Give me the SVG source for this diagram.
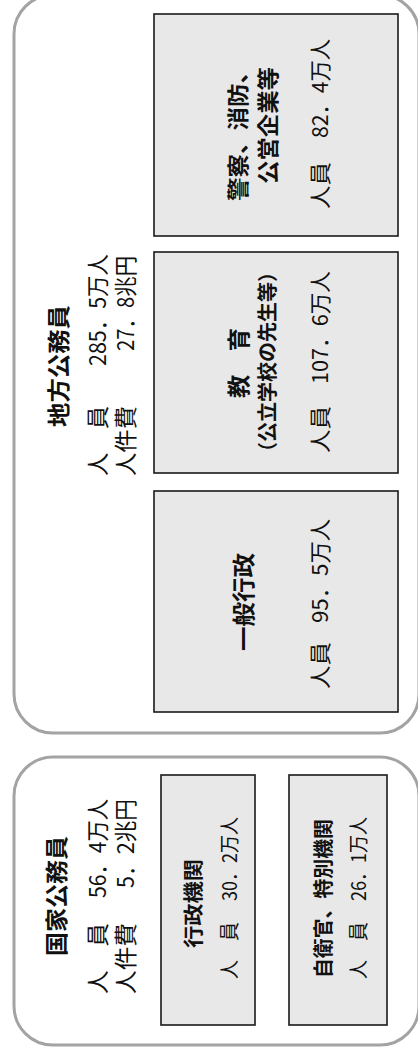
<svg xmlns="http://www.w3.org/2000/svg" width="418" height="1056" viewBox="0 0 418 1056">
<style>
.cont{fill:#ffffff;stroke:#a3a3a3;stroke-width:3}
.box{fill:#e8e8e8;stroke:#1a1a1a;stroke-width:1.6}
.t{font-family:"Noto Sans CJK JP","Noto Sans CJK SC",sans-serif;fill:#111;dominant-baseline:central}
.b{font-weight:bold}
</style>
<rect width="418" height="1056" fill="#ffffff"/>
<g id="connectors"/>
<g id="local">
<rect class="cont" x="14" y="-5" width="405" height="738" rx="39"/>
<text class="t b" font-size="23" textLength="122" lengthAdjust="spacingAndGlyphs" transform="translate(57 427) rotate(-90)">地方公務員</text>
<text class="t" font-size="23" textLength="70" lengthAdjust="spacingAndGlyphs" transform="translate(96 476) rotate(-90)">人　員</text>
<text class="t" font-size="23" textLength="112" lengthAdjust="spacingAndGlyphs" transform="translate(96 366) rotate(-90)">285．5万人</text>
<text class="t" font-size="23" textLength="70" lengthAdjust="spacingAndGlyphs" transform="translate(124 476) rotate(-90)">人件費</text>
<text class="t" font-size="23" textLength="95" lengthAdjust="spacingAndGlyphs" transform="translate(124 351) rotate(-90)">27．8兆円</text>
</g>
<g id="police">
<rect class="box" x="154" y="14" width="244" height="222"/>
<text class="t b" font-size="22" textLength="141" lengthAdjust="spacingAndGlyphs" transform="translate(236 201) rotate(-90)">警察、消防、</text>
<text class="t b" font-size="22" textLength="117" lengthAdjust="spacingAndGlyphs" transform="translate(266 184) rotate(-90)">公営企業等</text>
<text class="t" font-size="22" textLength="47" lengthAdjust="spacingAndGlyphs" transform="translate(318 209) rotate(-90)">人員</text>
<text class="t" font-size="22" textLength="99" lengthAdjust="spacingAndGlyphs" transform="translate(318 138) rotate(-90)">82．4万人</text>
</g>
<g id="education">
<rect class="box" x="154" y="252" width="244" height="221"/>
<text class="t b" font-size="23" textLength="70" lengthAdjust="spacingAndGlyphs" transform="translate(237 398) rotate(-90)">教　育</text>
<text class="t b" font-size="20" textLength="200" lengthAdjust="spacingAndGlyphs" transform="translate(266 462) rotate(-90)">（公立学校の先生等）</text>
<text class="t" font-size="22" textLength="47" lengthAdjust="spacingAndGlyphs" transform="translate(318 453) rotate(-90)">人員</text>
<text class="t" font-size="22" textLength="113" lengthAdjust="spacingAndGlyphs" transform="translate(318 384) rotate(-90)">107．6万人</text>
</g>
<g id="general">
<rect class="box" x="154" y="491" width="244" height="221"/>
<text class="t b" font-size="23" textLength="98" lengthAdjust="spacingAndGlyphs" transform="translate(242 651) rotate(-90)">一般行政</text>
<text class="t" font-size="22" textLength="47" lengthAdjust="spacingAndGlyphs" transform="translate(318 689) rotate(-90)">人員</text>
<text class="t" font-size="22" textLength="104" lengthAdjust="spacingAndGlyphs" transform="translate(318 623) rotate(-90)">95．5万人</text>
</g>
<g id="national">
<rect class="cont" x="14" y="757" width="405" height="288" rx="39"/>
<text class="t b" font-size="23" textLength="120" lengthAdjust="spacingAndGlyphs" transform="translate(55 956) rotate(-90)">国家公務員</text>
<text class="t" font-size="23" textLength="71" lengthAdjust="spacingAndGlyphs" transform="translate(96 994) rotate(-90)">人　員</text>
<text class="t" font-size="23" textLength="99" lengthAdjust="spacingAndGlyphs" transform="translate(96 898) rotate(-90)">56．4万人</text>
<text class="t" font-size="23" textLength="71" lengthAdjust="spacingAndGlyphs" transform="translate(124 994) rotate(-90)">人件費</text>
<text class="t" font-size="23" textLength="89" lengthAdjust="spacingAndGlyphs" transform="translate(124 888) rotate(-90)">5．2兆円</text>
</g>
<g id="admin">
<rect class="box" x="161" y="775" width="94" height="250"/>
<text class="t b" font-size="20" textLength="89" lengthAdjust="spacingAndGlyphs" transform="translate(192 948) rotate(-90)">行政機関</text>
<text class="t" font-size="20" textLength="57" lengthAdjust="spacingAndGlyphs" transform="translate(228 979) rotate(-90)">人　員</text>
<text class="t" font-size="20" textLength="84" lengthAdjust="spacingAndGlyphs" transform="translate(228 901) rotate(-90)">30．2万人</text>
</g>
<g id="sdf">
<rect class="box" x="289" y="775" width="98" height="250"/>
<text class="t b" font-size="20" textLength="159" lengthAdjust="spacingAndGlyphs" transform="translate(322 978) rotate(-90)">自衛官、特別機関</text>
<text class="t" font-size="20" textLength="57" lengthAdjust="spacingAndGlyphs" transform="translate(357 979) rotate(-90)">人　員</text>
<text class="t" font-size="20" textLength="84" lengthAdjust="spacingAndGlyphs" transform="translate(357 901) rotate(-90)">26．1万人</text>
</g>
</svg>
